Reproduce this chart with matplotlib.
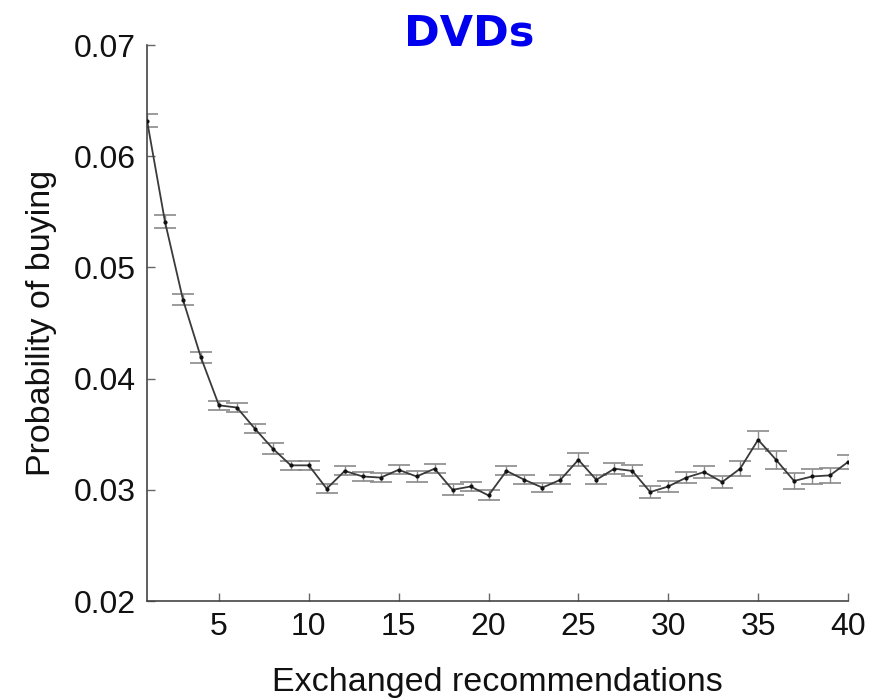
import matplotlib
matplotlib.use("Agg")
import matplotlib.pyplot as plt
import numpy as np

# Number of exchanged recommendations
recs = list(range(1, 41))

# Probability of buying and its standard error
prob = [0.0632, 0.0541, 0.0471, 0.0419, 0.0376, 0.0374, 0.0355, 0.0337, 0.0322, 0.0322,
        0.0301, 0.0317, 0.0312, 0.0311, 0.0318, 0.0312, 0.0319, 0.0300, 0.0303, 0.0295,
        0.0317, 0.0309, 0.0302, 0.0309, 0.0327, 0.0309, 0.0319, 0.0317, 0.0298, 0.0303,
        0.0311, 0.0316, 0.0307, 0.0319, 0.0345, 0.0327, 0.0308, 0.0312, 0.0313, 0.0325]
err = [0.0006, 0.0006, 0.0005, 0.0005, 0.0004, 0.0004, 0.0004, 0.0005, 0.0004, 0.0004,
       0.0004, 0.0004, 0.0004, 0.0004, 0.0004, 0.0005, 0.0004, 0.0005, 0.0004, 0.00045,
       0.0004, 0.0004, 0.0004, 0.0004, 0.0006, 0.0004, 0.0005, 0.0005, 0.0005, 0.0005,
       0.0005, 0.0005, 0.0005, 0.0007, 0.0008, 0.0008, 0.0007, 0.0007, 0.0007, 0.0006]

x_ticks = [5, 10, 15, 20, 25, 30, 35, 40]
y_ticks = [0.02, 0.03, 0.04, 0.05, 0.06, 0.07]
y_tick_labels = ["0.02", "0.03", "0.04", "0.05", "0.06", "0.07"]

plt.rcParams['font.family'] = ['Liberation Sans', 'DejaVu Sans']

fig = plt.figure(figsize=(8.81, 7.0), dpi=100)
ax = fig.add_axes([0.1669, 0.1414, 0.7956, 0.7943])

ax.errorbar(recs, prob, yerr=err, fmt='none', ecolor='#8a8a8a', elinewidth=1.0,
            capsize=8, capthick=1.2, zorder=2)
ax.plot(recs, prob, color='#3a3a3a', linewidth=1.3, marker='.', markersize=4,
        markerfacecolor='#111111', markeredgecolor='#111111', zorder=3)

ax.set_xlim(1, 40)
ax.set_ylim(0.02, 0.07)
ax.set_xticks(x_ticks)
ax.set_yticks(y_ticks)
ax.set_yticklabels(y_tick_labels)

for side in ('top', 'right'):
    ax.spines[side].set_visible(False)
for side in ('left', 'bottom'):
    ax.spines[side].set_color('#444444')
    ax.spines[side].set_linewidth(1.2)

ax.tick_params(direction='in', length=6, width=1.0, color='#666666',
               labelsize=23, labelcolor='#111111', pad=8)

ax.set_xlabel("Exchanged recommendations", fontsize=24.5, color='#111111', labelpad=18)
ax.set_ylabel("Probability of buying", fontsize=24.5, color='#111111', labelpad=12)

fig.text(0.533, 0.952, "DVDs", color='#0000ee', fontsize=31, fontweight='bold',
         family='DejaVu Sans', ha='center', va='center')

fig.savefig("out.png", dpi=100)
